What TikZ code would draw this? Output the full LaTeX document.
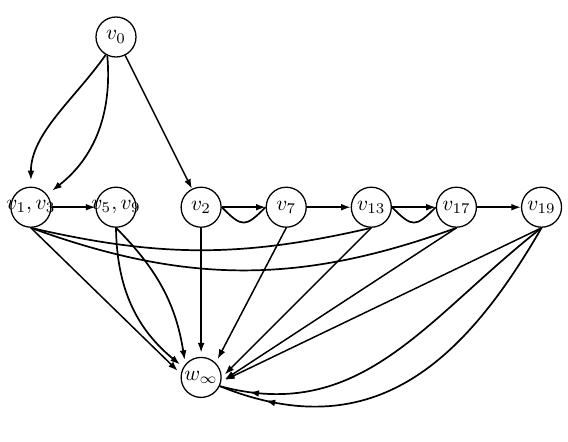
\documentclass[tikz,border=0pt]{standalone}
\usepackage{amsmath,amssymb}
\usepackage{tikz}
\usetikzlibrary{arrows.meta, positioning, decorations.markings}

\begin{document}
\begin{tikzpicture}[
  x=0.47pt, y=0.47pt,
  vtx/.style={circle, draw, line width=0.6pt, minimum size=18.8pt, inner sep=0pt},
  arw/.style={line width=0.7pt, -{Latex[length=4.5pt, width=3.2pt]}},
  bentarw/.style={arw, line width=0.8pt},
  bare/.style={line width=0.8pt},
  midarrow/.style={line width=0.8pt, postaction={decorate},
    decoration={markings, mark=at position #1 with {\arrow{Latex[length=4.5pt, width=3.2pt]}}}},
  node distance=80pt and 40pt, on grid
]
  \useasboundingbox (0,0) rectangle (568,-442);

  \node[vtx] (v0) at (116,-37) {$v_0$};
  \node[vtx, below=of v0] (v5) {\makebox[0pt]{$v_5, v_9$}};
  \node[vtx, left=of v5] (v1) {\makebox[0pt]{$v_1, v_3$}};
  \node[vtx, right=of v5] (v2) {$v_2$};
  \node[vtx, right=of v2] (v7) {$v_7$};
  \node[vtx, right=of v7] (v13) {$v_{13}$};
  \node[vtx, right=of v13] (v17) {$v_{17}$};
  \node[vtx, right=of v17] (v19) {$v_{19}$};
  \node[vtx, below=of v2] (winf) {$w_\infty$};

  % top part
  \draw[arw] (v0) -- (v2);
  \draw[bentarw, shorten >=3pt] (v0.240) to[out=-125, in=90, looseness=0.9] (v1);
  \draw[bentarw, shorten >=3pt] (v0.245) to[out=-85, in=38] (v1);

  % the row
  \draw[arw] (v1) -- (v5);
  \draw[arw] (v2) -- (v7);
  \draw[arw] (v7) -- (v13);
  \draw[arw] (v13) -- (v17);
  \draw[arw] (v17) -- (v19);
  \draw[bare] (v2.east) to[out=-45, in=-135, looseness=1.7] (v7.west);
  \draw[bare] (v13.east) to[out=-45, in=-135, looseness=1.7] (v17.west);
  \draw[bare] (v1.south) to[bend right=13] (v13.south);
  \draw[bare] (v1.south) to[bend right=20] (v17.south);

  % into w
  \draw[arw, shorten >=2pt] (v1.south) -- (winf.170);
  \draw[bentarw, shorten >=2pt] (v5.south) to[bend right=25] (winf.150);
  \draw[bentarw, shorten >=2pt] (v5.south) to[bend left=18] (winf.140);
  \draw[arw, shorten >=2pt] (v2) -- (winf);
  \draw[arw, shorten >=2pt] (v7.south) -- (winf.north east);
  \draw[arw, shorten >=2pt] (v13.south) -- (winf.east);
  \draw[arw, shorten >=2pt] (v17.south) -- (winf.-12);
  \draw[arw, shorten >=2pt] (v19.south) -- (winf.-12);
  \draw[midarrow=0.92] (v19.south) to[out=-142, in=-15, looseness=1.05] (winf.-25);
  \draw[midarrow=0.88] (v19.south) to[out=-120, in=-22, looseness=1.15] (winf.-25);
\end{tikzpicture}
\end{document}
